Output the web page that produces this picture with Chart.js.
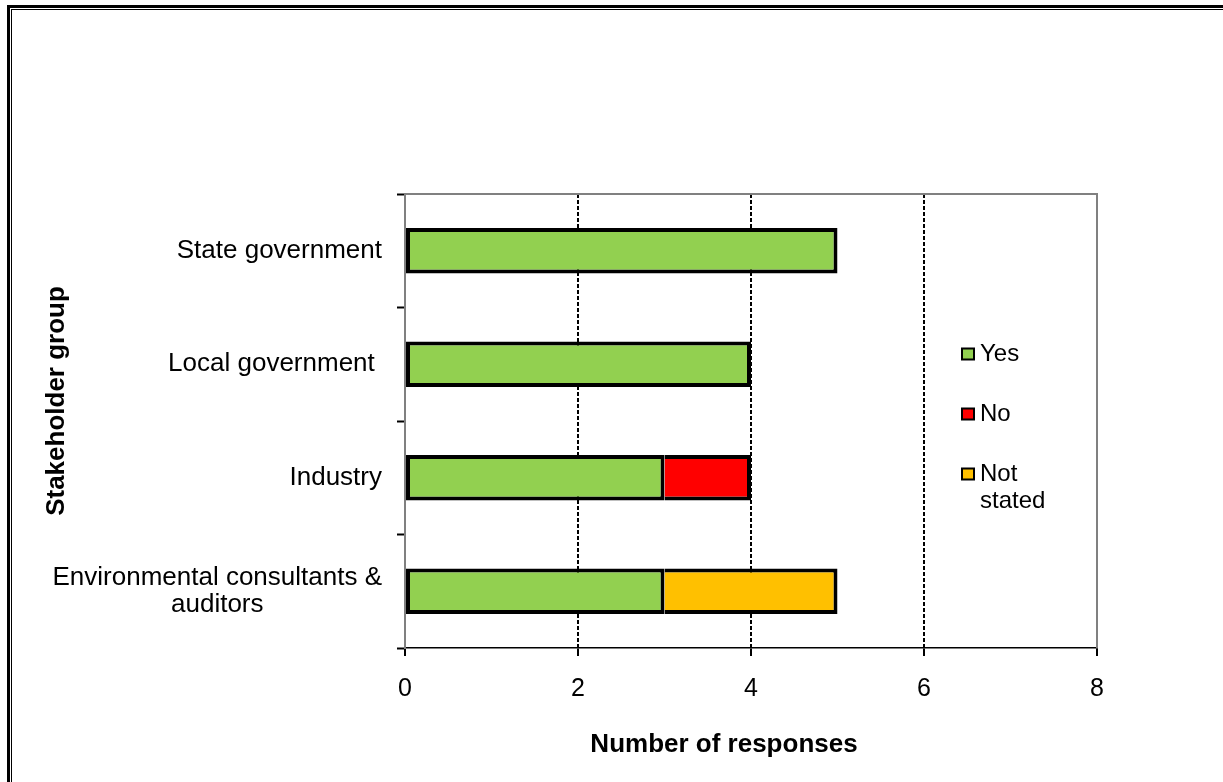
<!DOCTYPE html>
<html>
<head>
<meta charset="utf-8">
<title>Stakeholder responses</title>
<script src="https://cdn.jsdelivr.net/npm/chart.js@4.4.1/dist/chart.umd.min.js"></script>
<style>
  html, body { margin: 0; padding: 0; background: #fff; overflow: hidden; }
  .frame-outer { position: absolute; left: 7px; top: 5px; width: 1400px; height: 1000px; border: 3px solid #000; }
  .frame-inner { position: absolute; left: 11px; top: 9px; width: 1400px; height: 1000px; border: 1px solid #000; }
  #chart { position: absolute; left: 0; top: 0; }
</style>
</head>
<body>
<div class="frame-outer"></div>
<div class="frame-inner"></div>
<canvas id="chart" width="1223" height="782"></canvas>
<script>
// stakeholder groups, top to bottom (multi-line labels as arrays)
const GROUPS = [['State government'], ['Local government '], ['Industry'], ['Environmental consultants &', 'auditors']];
const YES        = [5, 4, 3, 3];
const NO         = [0, 0, 1, 0];
const NOT_STATED = [0, 0, 0, 2];
const X_TICKS    = [0, 2, 4, 6, 8];

const FONT = '"Liberation Sans", Arial, sans-serif';
Chart.defaults.font.family = FONT;
Chart.defaults.color = '#000';

const SEG = 4;
const firstBorder = SEG;
// later segments share the previous segment's right edge
const nextBorder  = { top: SEG, right: SEG, bottom: SEG, left: 0 };

// ─── labels, legend, titles and plot border drawn on top ───
const overlay = {
  id: 'overlay',
  afterDraw(chart) {
    const { ctx, chartArea: a, scales } = chart;
    ctx.save();

    // plot area border (top + right)
    ctx.strokeStyle = '#808080';
    ctx.lineWidth = 2;
    ctx.beginPath();
    ctx.moveTo(a.left, a.top);
    ctx.lineTo(a.right, a.top);
    ctx.lineTo(a.right, a.bottom);
    ctx.stroke();

    // category labels: block right-aligned, lines centred in the block
    ctx.fillStyle = '#000';
    ctx.font = `26px ${FONT}`;
    ctx.textBaseline = 'middle';
    ctx.textAlign = 'center';
    const labelRight = a.left - 23;
    chart.data.labels.forEach((lines, i) => {
      const cy = scales.y.getPixelForTick(i);
      const w = Math.max(...lines.map(l => ctx.measureText(l).width));
      lines.forEach((l, j) => {
        ctx.fillText(l, labelRight - w / 2, cy + (j - (lines.length - 1) / 2) * 27);
      });
    });

    // legend
    ctx.font = `24px ${FONT}`;
    ctx.textAlign = 'left';
    const legendY = [354, 414, 474];
    chart.data.datasets.forEach((ds, i) => {
      const y = legendY[i];
      ctx.fillStyle = '#000';
      ctx.fillRect(961, y - 6.5, 14, 13);
      ctx.fillStyle = ds.backgroundColor;
      ctx.fillRect(963, y - 4.5, 10, 9);
      ctx.fillStyle = '#000';
      ds.label.split('\n').forEach((t, j) => ctx.fillText(t, 980, y + j * 27));
    });

    // axis titles
    ctx.font = `bold 26px ${FONT}`;
    ctx.textAlign = 'center';
    ctx.fillText('Number of responses', 724, 745);
    ctx.translate(57, 401);
    ctx.rotate(-Math.PI / 2);
    ctx.fillText('Stakeholder group', 0, 0);

    ctx.restore();
  }
};

new Chart(document.getElementById('chart'), {
  type: 'bar',
  data: {
    labels: GROUPS,
    datasets: [
      { label: 'Yes',          data: YES,        backgroundColor: '#92D050', borderWidth: firstBorder },
      { label: 'No',           data: NO,         backgroundColor: '#FF0000', borderWidth: nextBorder },
      { label: 'Not\nstated',  data: NOT_STATED, backgroundColor: '#FFC000', borderWidth: nextBorder }
    ].map(d => Object.assign(d, {
      borderColor: '#000', borderSkipped: false, inflateAmount: 0,
      barPercentage: 0.4, categoryPercentage: 1
    }))
  },
  options: {
    indexAxis: 'y',
    responsive: false,
    animation: false,
    layout: { padding: { top: 194, right: 126, left: 0, bottom: 0 } },
    plugins: { legend: { display: false }, tooltip: { enabled: false } },
    scales: {
      x: {
        stacked: true,
        min: 0, max: 8,
        afterBuildTicks: s => { s.ticks = X_TICKS.map(v => ({ value: v })); },
        afterFit: s => { s.height = 134; },
        ticks: { font: { size: 25 }, padding: 18 },
        grid: {
          color: c => (c.tick && (c.tick.value === 0 || c.tick.value === 8)) ? 'rgba(0,0,0,0)' : '#000',
          lineWidth: 2,
          tickColor: '#000', tickWidth: 2, tickLength: 8, tickBorderDash: []
        },
        border: { color: '#000', width: 1.5, dash: [4, 2] }
      },
      y: {
        stacked: true,
        afterFit: s => { s.width = 405; },
        ticks: { display: false },
        grid: { drawOnChartArea: false, tickColor: '#000', tickWidth: 2, tickLength: 8 },
        border: { color: '#808080', width: 2 }
      }
    }
  },
  plugins: [overlay]
});
</script>
</body>
</html>
